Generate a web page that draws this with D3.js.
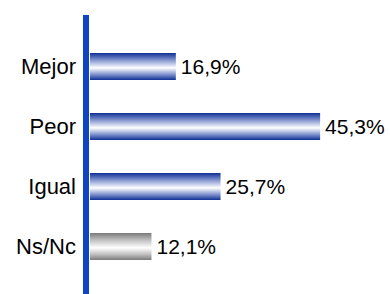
<!DOCTYPE html>
<html>
<head>
<meta charset="utf-8">
<script src="https://cdn.jsdelivr.net/npm/d3@7"></script>
<style>
  body { margin: 0; background: #fff; }
  svg text { font-family: "Liberation Sans", Arial, sans-serif; fill: #000; }
</style>
</head>
<body>
<div id="chart"></div>
<script>
const categories = ["Mejor", "Peor", "Igual", "Ns/Nc"];
const values = [16.9, 45.3, 25.7, 12.1];
const valueLabels = ["16,9%", "45,3%", "25,7%", "12,1%"];
const barKinds = ["blue", "blue", "blue", "gray"];

const width = 390, height = 294;
const margin = {top: 36.5, right: 0, bottom: 1, left: 90};

const svg = d3.select("#chart")
	.append("svg")
		.attr("width", width)
		.attr("height", height);

// cylinder-like gradients
const defs = svg.append("defs");
function addGrad(id, dark, mid) {
	const g = defs.append("linearGradient")
		.attr("id", id)
		.attr("x1", 0).attr("y1", 0).attr("x2", 0).attr("y2", 1);
	[[0, dark], [0.25, mid], [0.55, "#ffffff"], [0.8, mid], [1, dark]].forEach(s => {
		g.append("stop").attr("offset", s[0]).attr("stop-color", s[1]);
	});
}
addGrad("grad-blue", "#0f2f94", "#7d90cc");
addGrad("grad-gray", "#7a7a7a", "#bdbdbd");

const x = d3.scaleLinear()
	.domain([0, 50])
	.range([margin.left, margin.left + 254]);

const y = d3.scaleBand()
	.domain(categories)
	.range([margin.top, margin.top + 240])
	.paddingInner(0.55)
	.paddingOuter(0.275);

const rows = categories.map((c, i) => ({cat: c, value: values[i], label: valueLabels[i], kind: barKinds[i]}));

svg.selectAll("rect.bar")
	.data(rows)
	.enter().append("rect")
		.attr("class", "bar")
		.attr("x", x(0))
		.attr("y", d => y(d.cat))
		.attr("width", d => x(d.value) - x(0))
		.attr("height", y.bandwidth())
		.attr("fill", d => `url(#grad-${d.kind})`);

// value labels
svg.selectAll("text.val")
	.data(rows)
	.enter().append("text")
		.attr("class", "val")
		.attr("x", d => x(d.value) + 5)
		.attr("y", d => y(d.cat) + y.bandwidth() / 2)
		.attr("dy", "0.36em")
		.attr("font-size", 21)
		.text(d => d.label);

// category axis
const axis = svg.append("g")
	.attr("transform", `translate(${margin.left - 4},0)`)
	.call(d3.axisLeft(y).tickSize(0).tickPadding(10));
axis.select(".domain").remove();
axis.selectAll("text")
	.attr("font-size", 22)
	.attr("dy", "0.36em")
	.attr("font-family", "Liberation Sans, Arial, sans-serif")
	.attr("fill", "#000");

svg.append("line")
	.attr("x1", margin.left - 4).attr("x2", margin.left - 4)
	.attr("y1", 15).attr("y2", height)
	.attr("stroke", "#0f45c2")
	.attr("stroke-width", 6);
</script>
</body>
</html>
